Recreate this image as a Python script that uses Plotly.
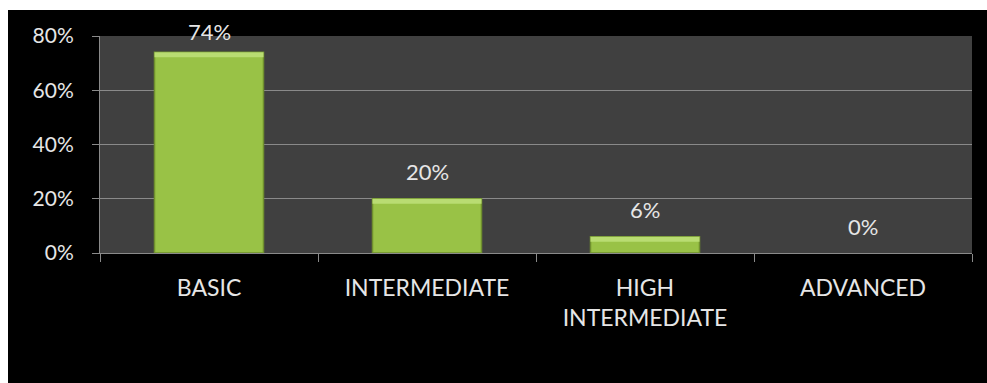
import plotly.graph_objects as go

# Proficiency levels and share of respondents in each
levels = ["BASIC", "INTERMEDIATE", "HIGH<br>INTERMEDIATE", "ADVANCED"]
shares = [0.74, 0.20, 0.06, 0.00]
value_labels = ["74%", "20%", "6%", "0%"]

W, H = 987, 383
M_L, M_R, M_T, M_B = 100, 15, 36, 130
Y_MAX = 0.8
plot_h = H - M_T - M_B
px_to_data = Y_MAX / plot_h

LABEL_FONT = dict(family="Lato", size=22, color="#e6e6e6")
TICK_COLOR = "#8a8a8a"

fig = go.Figure()

# main bar body; empty categories get no outline
fig.add_trace(go.Bar(
    x=levels,
    y=shares,
    marker=dict(
        color="#99c246",
        line=dict(color="#6f8f2e", width=[1.5 if v > 0 else 0 for v in shares]),
    ),
    hoverinfo="skip",
))

# light bevel strip along the top edge of each bar
bevel = 5 * px_to_data
fig.add_trace(go.Bar(
    x=levels,
    y=[bevel if v > 0 else 0 for v in shares],
    base=[max(v - bevel, 0) for v in shares],
    marker=dict(color="#b9dc72", line=dict(width=0)),
    hoverinfo="skip",
))

# value labels sit above each bar, kept inside the chart area near the top
annotations = []
for lvl, val, txt in zip(levels, shares, value_labels):
    top_px = val / px_to_data               # distance of bar top above baseline
    shift = min(27, plot_h - top_px + 5)    # clamp so the label stays on the chart
    annotations.append(dict(
        x=lvl, y=val, xref="x", yref="y",
        text=txt, showarrow=False,
        yanchor="middle", yshift=shift,
        font=LABEL_FONT,
    ))

# white strips along the top and left edges of the canvas
plot_w = W - M_L - M_R
def px_x(px):
    return (px - M_L) / plot_w
def px_y(py):
    return (H - M_B - py) / plot_h

shapes = [
    dict(type="rect", xref="paper", yref="paper",
         x0=px_x(0), x1=px_x(W), y0=px_y(10), y1=px_y(0),
         fillcolor="white", line=dict(width=0), layer="below"),
    dict(type="rect", xref="paper", yref="paper",
         x0=px_x(0), x1=px_x(8), y0=px_y(H), y1=px_y(0),
         fillcolor="white", line=dict(width=0), layer="below"),
]

fig.update_layout(
    width=W, height=H,
    margin=dict(l=M_L, r=M_R, t=M_T, b=M_B),
    paper_bgcolor="black",
    plot_bgcolor="#404040",
    barmode="overlay",
    bargap=0.5,
    showlegend=False,
    annotations=annotations,
    shapes=shapes,
    font=dict(family="Lato", color="#e6e6e6"),
)

fig.update_xaxes(
    type="category",
    showgrid=False,
    showline=True, linecolor=TICK_COLOR, linewidth=1,
    ticks="outside", tickson="boundaries", ticklen=8, tickcolor=TICK_COLOR,
    tickfont=dict(family="Lato", size=23, color="#e6e6e6"),
    ticklabelstandoff=14,
    tickangle=0,
)

fig.update_yaxes(
    range=[0, Y_MAX], dtick=0.2, tickformat=".0%",
    showgrid=True, gridcolor=TICK_COLOR, gridwidth=1,
    showline=True, linecolor=TICK_COLOR, linewidth=1,
    ticks="outside", ticklen=7, tickcolor=TICK_COLOR,
    tickfont=dict(family="Lato", size=21, color="#e6e6e6"),
    ticklabelstandoff=14,
    zeroline=False,
)

fig.write_html("out.html")
